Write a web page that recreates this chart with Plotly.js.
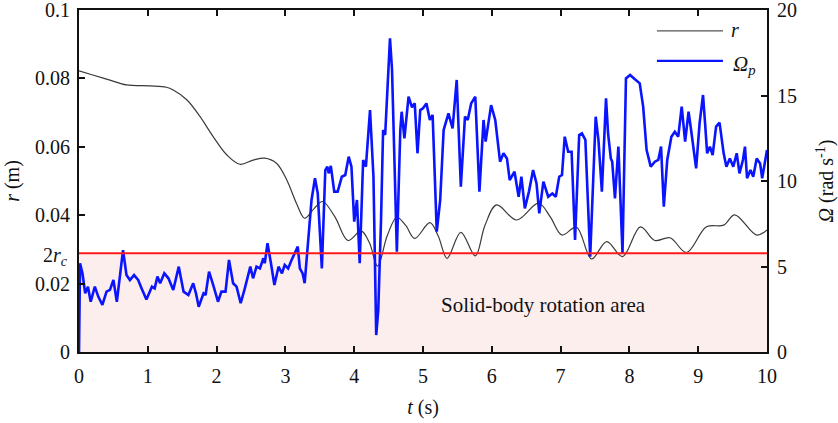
<!DOCTYPE html>
<html>
<head>
<meta charset="utf-8">
<script src="https://cdn.plot.ly/plotly-3.0.1.min.js"></script>
<style>html,body{margin:0;padding:0;background:#fff;}#chart{width:838px;height:423px;}</style>
</head>
<body>
<div id="chart"></div>
<script>
// radius r (m) vs time
const tR = [0, 0.2, 0.45, 0.69, 1.03, 1.27, 1.37, 1.57, 1.76, 1.95, 2.15, 2.34, 2.53, 2.70, 2.87, 3.02, 3.16, 3.28, 3.42, 3.54, 3.72, 3.91, 4.10, 4.22, 4.34, 4.48, 4.62, 4.75, 4.88, 5.10, 5.22, 5.35, 5.55, 5.76, 5.90, 6.07, 6.36, 6.68, 6.85, 7.02, 7.23, 7.45, 7.67, 7.90, 8.16, 8.37, 8.59, 8.83, 9.12, 9.37, 9.53, 9.85, 10.0];
const rVals = [0.0822, 0.0810, 0.0795, 0.0781, 0.0778, 0.0774, 0.0766, 0.0737, 0.0688, 0.0630, 0.0576, 0.0549, 0.0561, 0.0567, 0.0552, 0.0503, 0.0435, 0.0391, 0.0420, 0.0440, 0.0395, 0.0326, 0.0354, 0.0320, 0.0251, 0.0340, 0.0394, 0.0370, 0.0332, 0.0378, 0.0340, 0.0274, 0.0350, 0.0281, 0.0370, 0.0430, 0.0386, 0.0435, 0.0395, 0.0342, 0.0365, 0.0272, 0.0323, 0.0279, 0.0366, 0.0326, 0.0334, 0.0291, 0.0366, 0.0371, 0.0401, 0.0342, 0.0357];

// precession angular velocity Omega_p (rad/s) vs time
const tOm = [0, 0.015, 0.05, 0.09, 0.13, 0.17, 0.23, 0.28, 0.34, 0.40, 0.45, 0.50, 0.55, 0.64, 0.69, 0.74, 0.80, 0.86, 0.91, 0.98, 1.06, 1.10, 1.14, 1.18, 1.24, 1.30, 1.37, 1.45, 1.52, 1.59, 1.66, 1.70, 1.74, 1.81, 1.84, 1.89, 1.95, 2.02, 2.07, 2.13, 2.18, 2.24, 2.29, 2.35, 2.41, 2.49, 2.53, 2.58, 2.63, 2.68, 2.70, 2.74, 2.79, 2.84, 2.90, 2.95, 2.99, 3.04, 3.09, 3.18, 3.21, 3.25, 3.28, 3.33, 3.38, 3.43, 3.47, 3.53, 3.58, 3.61, 3.63, 3.66, 3.71, 3.76, 3.82, 3.87, 3.92, 3.96, 4.00, 4.04, 4.08, 4.13, 4.17, 4.23, 4.28, 4.32, 4.35, 4.39, 4.42, 4.45, 4.48, 4.52, 4.55, 4.59, 4.62, 4.67, 4.69, 4.73, 4.79, 4.84, 4.88, 4.92, 4.96, 5.00, 5.05, 5.10, 5.14, 5.20, 5.25, 5.30, 5.37, 5.43, 5.49, 5.55, 5.61, 5.65, 5.70, 5.76, 5.82, 5.88, 5.91, 5.99, 6.05, 6.12, 6.17, 6.22, 6.26, 6.33, 6.39, 6.43, 6.48, 6.54, 6.60, 6.65, 6.69, 6.75, 6.82, 6.88, 6.93, 6.98, 7.02, 7.06, 7.11, 7.16, 7.21, 7.27, 7.31, 7.36, 7.43, 7.51, 7.55, 7.60, 7.62, 7.66, 7.69, 7.73, 7.75, 7.79, 7.84, 7.90, 7.95, 8.01, 8.08, 8.15, 8.20, 8.25, 8.31, 8.37, 8.42, 8.46, 8.50, 8.55, 8.61, 8.66, 8.71, 8.76, 8.81, 8.86, 8.90, 8.97, 9.02, 9.07, 9.10, 9.13, 9.17, 9.21, 9.26, 9.31, 9.37, 9.41, 9.46, 9.51, 9.56, 9.60, 9.65, 9.68, 9.71, 9.76, 9.80, 9.85, 9.90, 9.93, 10.0];
const omVals = [0, 5.19, 4.6, 3.43, 3.82, 2.94, 3.82, 3.24, 2.75, 3.53, 3.63, 4.21, 2.94, 5.96, 4.5, 4.21, 4.5, 4.21, 3.72, 3.07, 3.82, 3.72, 4.41, 4.02, 4.6, 4.31, 3.63, 4.99, 3.53, 3.33, 4.02, 3.43, 2.65, 3.43, 3.33, 4.70, 3.92, 2.94, 3.53, 3.53, 5.38, 4.02, 3.82, 2.85, 3.72, 4.99, 4.31, 4.99, 4.89, 5.48, 5.19, 6.36, 5.19, 3.92, 4.99, 4.6, 5.09, 4.89, 5.38, 6.16, 4.89, 4.6, 4.02, 6.55, 8.89, 10.16, 9.28, 4.89, 10.64, 10.84, 10.45, 10.88, 9.38, 9.38, 10.25, 10.35, 11.42, 10.84, 7.62, 8.89, 5.19, 11.23, 10.84, 14.15, 10.25, 0.99, 2.46, 7.72, 12.98, 12.69, 15.51, 18.34, 16.49, 10.64, 5.87, 12.98, 14.05, 12.5, 14.93, 14.31, 14.54, 11.62, 14.15, 14.25, 14.54, 13.57, 13.86, 7.04, 8.89, 12.98, 13.95, 13.08, 15.91, 9.67, 13.76, 13.57, 14.54, 14.93, 9.38, 13.57, 12.30, 14.44, 13.57, 11.13, 11.62, 11.32, 10.06, 10.54, 9.08, 10.25, 8.40, 9.38, 10.64, 9.86, 8.11, 9.96, 9.08, 9.27, 9.08, 10.25, 10.35, 12.59, 11.71, 11.71, 6.55, 12.69, 12.79, 12.40, 5.57, 13.76, 12.40, 9.38, 11.23, 14.83, 12.79, 11.32, 11.13, 8.98, 12.01, 5.77, 16.0, 16.20, 15.95, 15.71, 14.35, 11.81, 10.84, 11.13, 11.23, 12.01, 8.50, 11.23, 12.59, 12.88, 12.59, 14.35, 12.30, 14.05, 12.88, 10.74, 13.37, 15.03, 13.37, 11.62, 12.01, 11.52, 13.18, 13.41, 11.62, 10.84, 11.32, 10.84, 11.62, 10.45, 11.23, 12.01, 10.16, 10.64, 10.25, 11.32, 11.03, 10.16, 11.81];

// critical radius threshold 2 r_c (m)
const twoRc = 0.0289;

// tick labels
const xTicks = [0,1,2,3,4,5,6,7,8,9,10];
const yTicks = [0, 0.02, 0.04, 0.06, 0.08, 0.1];
const yTickText = ['0', '0.02', '0.04', '0.06', '0.08', '0.1'];
const y2Ticks = [0, 5, 10, 15, 20];

// legend labels
const legendNames = ['<i>r</i>', '<i>Ω<sub>p</sub></i>'];

const FONT = 'Liberation Serif, Times New Roman, serif';
const BLACK_LINE = '#3a3a3a';
const BLUE_LINE = '#0a14ff';

const traces = [
  {x: tR, y: rVals, type: 'scatter', mode: 'lines', name: legendNames[0],
   line: {color: BLACK_LINE, width: 1.2, shape: 'spline', smoothing: 1}, yaxis: 'y'},
  {x: tOm, y: omVals, type: 'scatter', mode: 'lines', name: legendNames[1],
   line: {color: BLUE_LINE, width: 2.6}, yaxis: 'y2'}
];

// legend drawn in the figure's top-right corner (paper coordinates)
const legX0 = 0.840, legX1 = 0.936, legY = [0.939, 0.851];

const layout = {
  width: 838, height: 423,
  margin: {l: 79, r: 71, t: 10, b: 71},
  paper_bgcolor: '#fff', plot_bgcolor: '#fff',
  font: {family: FONT, size: 20, color: '#111'},
  showlegend: false,
  xaxis: {range: [0, 10], tickvals: xTicks, ticktext: xTicks.map(String), ticks: 'inside', ticklen: 6, tickwidth: 2,
          tickcolor: '#111', showline: true, linecolor: '#111', linewidth: 2, mirror: 'ticks',
          showgrid: false, zeroline: false, tickfont: {size: 20}, ticklabelstandoff: 5, ticklabeloverflow: 'allow',
          title: {text: '<i>t</i> (s)', font: {size: 20}, standoff: 14}},
  yaxis: {range: [0, 0.1], tickvals: yTicks, ticktext: yTickText, ticks: 'inside', ticklen: 6, tickwidth: 2,
          tickcolor: '#111', showline: true, linecolor: '#111', linewidth: 2,
          showgrid: false, zeroline: false, tickfont: {size: 20}, ticklabelstandoff: 3, ticklabeloverflow: 'allow',
          title: {text: '<i>r</i> (m)', font: {size: 20}, standoff: 10}},
  yaxis2: {range: [0, 20], tickvals: y2Ticks, ticktext: y2Ticks.map(String), ticks: 'inside', ticklen: 6, tickwidth: 2,
           tickcolor: '#111', showline: true, linecolor: '#111', linewidth: 2,
           overlaying: 'y', side: 'right', showgrid: false, zeroline: false, tickfont: {size: 20}, ticklabelstandoff: 4,
           ticklabeloverflow: 'allow',
           title: {text: '<i>Ω</i> (rad s<sup>-1</sup>)', font: {size: 20}, standoff: 24}},
  shapes: [
    {type: 'rect', xref: 'x', yref: 'y', x0: 0, x1: 10, y0: 0, y1: twoRc,
     fillcolor: '#fdeeee', line: {width: 0}, layer: 'below'},
    {type: 'line', xref: 'x', yref: 'y', x0: 0, x1: 10, y0: twoRc, y1: twoRc,
     line: {color: '#ff1a1a', width: 2}, layer: 'above'},
    {type: 'line', xref: 'paper', yref: 'paper', x0: legX0, x1: legX1, y0: legY[0], y1: legY[0],
     line: {color: '#555', width: 1.3}},
    {type: 'line', xref: 'paper', yref: 'paper', x0: legX0, x1: legX1, y0: legY[1], y1: legY[1],
     line: {color: BLUE_LINE, width: 2.2}}
  ],
  annotations: [
    {xref: 'paper', yref: 'y', x: 0, y: twoRc, xanchor: 'right', yanchor: 'middle', xshift: -9, yshift: -3,
     text: '2<i>r</i><sub><i>c</i></sub>', showarrow: false, font: {family: FONT, size: 20, color: '#111'}},
    {xref: 'x', yref: 'y', x: 6.75, y: 0.0137, text: 'Solid-body rotation area', showarrow: false,
     font: {family: FONT, size: 21, color: '#111'}},
    {xref: 'paper', yref: 'paper', x: legX1, y: legY[0], xanchor: 'left', yanchor: 'middle', xshift: 6, yshift: 1,
     text: legendNames[0], showarrow: false, font: {family: FONT, size: 20, color: '#111'}},
    {xref: 'paper', yref: 'paper', x: legX1, y: legY[1], xanchor: 'left', yanchor: 'middle', xshift: 8, yshift: -4,
     text: legendNames[1], showarrow: false, font: {family: FONT, size: 21, color: '#111'}}
  ]
};

Plotly.newPlot('chart', traces, layout, {staticPlot: true});
</script>
</body>
</html>
